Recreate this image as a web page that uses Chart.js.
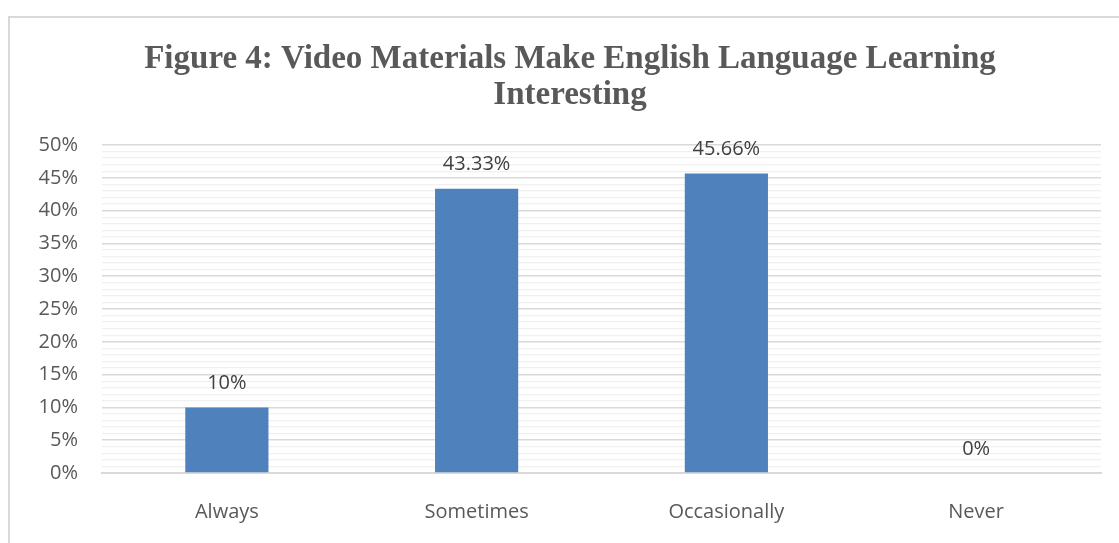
<!DOCTYPE html>
<html>
<head>
<meta charset="utf-8">
<script src="https://cdn.jsdelivr.net/npm/chart.js@4"></script>
<style>
    html, body { margin: 0; padding: 0; background: #fff; overflow: hidden; }
    #frame {
        position: absolute; left: 8px; top: 16px; width: 1200px; height: 600px;
        border-left: 2px solid #d9d9d9; border-top: 2px solid #d9d9d9;
    }
    #wrap { position: absolute; left: 0; top: 0; width: 1119px; height: 543px; }
</style>
</head>
<body>
<div id="frame"></div>
<div id="wrap"><canvas id="chart" width="1119" height="543"></canvas></div>
<script>
    const categories = ['Always', 'Sometimes', 'Occasionally', 'Never'];
    const values = [10, 43.33, 45.66, 0];
    const titleLines = ['Figure 4: Video Materials Make English Language Learning', 'Interesting'];

    // value labels above each bar
    const barLabels = {
        id: 'barLabels',
        afterDatasetsDraw(chart) {
            const ctx = chart.ctx;
            const meta = chart.getDatasetMeta(0);
            ctx.save();
            ctx.font = '20px "Open Sans"';
            ctx.fillStyle = '#404040';
            ctx.textAlign = 'center';
            ctx.textBaseline = 'middle';
            meta.data.forEach((bar, i) => {
                ctx.fillText(values[i] + '%', bar.x, bar.y - 24);
            });
            ctx.restore();
        }
    };

    // two-line title, centred on the frame rather than the canvas
    const frameTitle = {
        id: 'frameTitle',
        afterDraw(chart) {
            const ctx = chart.ctx;
            ctx.save();
            ctx.font = 'bold 33px "Liberation Serif"';
            ctx.fillStyle = '#595959';
            ctx.textAlign = 'center';
            ctx.textBaseline = 'alphabetic';
            titleLines.forEach((line, i) => {
                ctx.fillText(line, 570, 68 + i * 36);
            });
            ctx.restore();
        }
    };

    new Chart(document.getElementById('chart'), {
        type: 'bar',
        data: {
            labels: categories,
            datasets: [{
                data: values,
                backgroundColor: '#4f81bd',
                categoryPercentage: 1,
                barPercentage: 0.333
            }]
        },
        plugins: [barLabels, frameTitle],
        options: {
            responsive: false,
            animation: false,
            layout: { padding: { left: 0, right: 18, top: 145, bottom: 0 } },
            plugins: {
                legend: { display: false },
                tooltip: { enabled: false },
                title: { display: false }
            },
            scales: {
                x: {
                    afterFit: scale => { scale.height = 70; },
                    grid: { display: false, drawTicks: false },
                    border: { display: true, color: '#d9d9d9', width: 2 },
                    ticks: { color: '#595959', font: { family: '"Open Sans"', size: 20 }, padding: 27 }
                },
                y: {
                    min: 0,
                    max: 50,
                    afterFit: scale => { scale.width = 102; },
                    border: { display: false },
                    grid: {
                        drawTicks: false,
                        color: c => c.tick.value % 5 === 0 ? '#d9d9d9' : '#f0f0f0',
                        lineWidth: c => c.tick.value % 5 === 0 ? 1.5 : 1.3
                    },
                    ticks: {
                        stepSize: 1,
                        autoSkip: false,
                        padding: 24,
                        color: '#595959',
                        font: { family: '"Open Sans"', size: 20 },
                        callback: v => v % 5 === 0 ? v + '%' : ''
                    }
                }
            }
        }
    });
</script>
</body>
</html>
